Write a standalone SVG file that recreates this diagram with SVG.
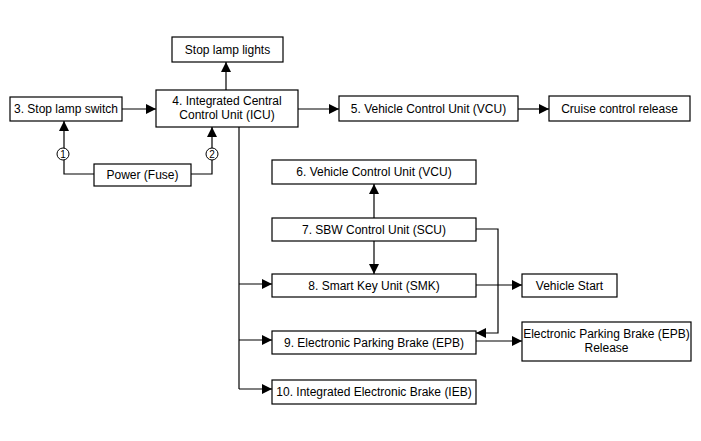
<svg xmlns="http://www.w3.org/2000/svg" width="701" height="441" viewBox="0 0 701 441">
<style>
.box{fill:#fff;stroke:#000;stroke-width:1.2}
.t{font-family:"Liberation Sans",Arial,sans-serif;font-size:12px;fill:#000;text-anchor:middle}
.c{font-family:"Liberation Sans",Arial,sans-serif;font-size:10px;fill:#000;text-anchor:middle}
.ln{fill:none;stroke:#000;stroke-width:1.2}
.arr{fill:none;stroke:#000;stroke-width:1.2;marker-end:url(#ah)}
</style>
<defs>
<marker id="ah" markerUnits="userSpaceOnUse" markerWidth="10" markerHeight="10" viewBox="0 0 10 10" refX="10" refY="5" orient="auto">
<path d="M0,0 L10,5 L0,10 z" fill="#000"/>
</marker>
</defs>
<rect width="701" height="441" fill="#fff"/>
<g id="connectors">
<path class="arr" d="M226,90 V62"/>
<path class="arr" d="M122,109 H156"/>
<path class="arr" d="M298,109 H339"/>
<path class="arr" d="M518,109 H549"/>
<path class="arr" d="M94,174 H64 V121"/>
<path class="arr" d="M191,174 H212 V127"/>
<path class="ln" d="M239,127 V389"/>
<path class="arr" d="M239,284 H272"/>
<path class="arr" d="M239,340 H272"/>
<path class="arr" d="M239,389 H272"/>
<path class="arr" d="M374,218 V184"/>
<path class="arr" d="M374,241 V274"/>
<path class="arr" d="M476,229 H498 V333 H476"/>
<path class="arr" d="M476,285 H522"/>
<path class="arr" d="M476,341 H522"/>
<circle cx="63" cy="154" r="6" fill="#fff" stroke="#000" stroke-width="1"/>
<text class="c" x="63" y="157.5">1</text>
<circle cx="212" cy="154" r="6" fill="#fff" stroke="#000" stroke-width="1"/>
<text class="c" x="212" y="157.5">2</text>
</g>
<g id="stop-lamp-lights"><rect class="box" x="172" y="37" width="111" height="25"/><text class="t" x="227.5" y="53.5">Stop lamp lights</text></g>
<g id="stop-lamp-switch"><rect class="box" x="10" y="97" width="112" height="24"/><text class="t" x="66" y="113">3. Stop lamp switch</text></g>
<g id="icu"><rect class="box" x="156" y="90" width="142" height="37"/><text class="t" x="227" y="105">4. Integrated Central</text><text class="t" x="227" y="119">Control Unit (ICU)</text></g>
<g id="vcu5"><rect class="box" x="339" y="96" width="179" height="25"/><text class="t" x="428.5" y="113">5. Vehicle Control Unit (VCU)</text></g>
<g id="cruise"><rect class="box" x="549" y="96" width="141" height="25"/><text class="t" x="619.5" y="113">Cruise control release</text></g>
<g id="power"><rect class="box" x="94" y="164" width="97" height="22"/><text class="t" x="142.5" y="179">Power (Fuse)</text></g>
<g id="vcu6"><rect class="box" x="272" y="160" width="204" height="24"/><text class="t" x="374" y="176">6. Vehicle Control Unit (VCU)</text></g>
<g id="scu"><rect class="box" x="272" y="218" width="204" height="23"/><text class="t" x="374" y="234">7. SBW Control Unit (SCU)</text></g>
<g id="smk"><rect class="box" x="272" y="274" width="204" height="23"/><text class="t" x="374" y="290">8. Smart Key Unit (SMK)</text></g>
<g id="vehicle-start"><rect class="box" x="522" y="274" width="95" height="23"/><text class="t" x="569.5" y="290">Vehicle Start</text></g>
<g id="epb"><rect class="box" x="272" y="331" width="204" height="23"/><text class="t" x="374" y="347">9. Electronic Parking Brake (EPB)</text></g>
<g id="epb-release"><rect class="box" x="522" y="322" width="169" height="39"/><text class="t" x="606.5" y="338">Electronic Parking Brake (EPB)</text><text class="t" x="606.5" y="352">Release</text></g>
<g id="ieb"><rect class="box" x="272" y="380" width="204" height="24"/><text class="t" x="374" y="396">10. Integrated Electronic Brake (IEB)</text></g>
</svg>
